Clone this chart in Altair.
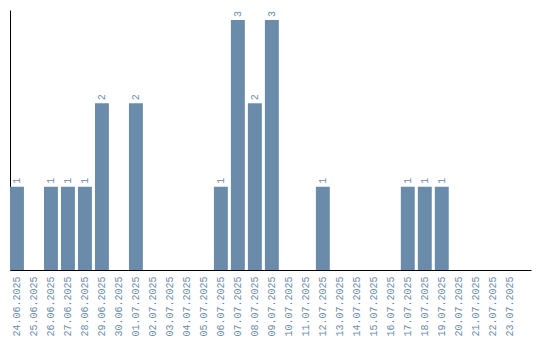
import altair as alt
import pandas as pd

dates = ["24.06.2025", "25.06.2025", "26.06.2025", "27.06.2025", "28.06.2025",
         "29.06.2025", "30.06.2025", "01.07.2025", "02.07.2025", "03.07.2025",
         "04.07.2025", "05.07.2025", "06.07.2025", "07.07.2025", "08.07.2025",
         "09.07.2025", "10.07.2025", "11.07.2025", "12.07.2025", "13.07.2025",
         "14.07.2025", "15.07.2025", "16.07.2025", "17.07.2025", "18.07.2025",
         "19.07.2025", "20.07.2025", "21.07.2025", "22.07.2025", "23.07.2025"]
counts = [1, 0, 1, 1, 1, 2, 0, 2, 0, 0,
          0, 0, 1, 3, 2, 3, 0, 0, 1, 0,
          0, 0, 0, 1, 1, 1, 0, 0, 0, 0]

df = pd.DataFrame({"date": dates, "count": counts})
df["label"] = df["count"].apply(lambda v: str(v) if v > 0 else "")

color = "#6a8caa"
font = "Liberation Mono"

x = alt.X("date:N", sort=dates, title=None,
          scale=alt.Scale(paddingInner=0.18, paddingOuter=0.42, align=0),
          axis=alt.Axis(labelAngle=270, labelColor=color, labelFont=font,
                        labelFontSize=10, ticks=False, domainColor="black",
                        labelPadding=6, grid=False))
y = alt.Y("count:Q", title=None, scale=alt.Scale(domain=[0, 3.12], nice=False),
          axis=alt.Axis(labels=False, ticks=False, grid=False, domainColor="black"))

bars = alt.Chart(df).mark_bar(color=color).encode(x=x, y=y)
text = alt.Chart(df).mark_text(angle=270, align="left", baseline="middle", dx=3,
                               color=color, font=font, fontSize=10).encode(
    x=alt.X("date:N", sort=dates), y="count:Q", text="label:N")

chart = (bars + text).properties(
    width=521, height=260, autosize=alt.AutoSizeParams(type="none"),
    padding={"left": 10, "top": 10, "right": 9, "bottom": 70}
).configure_view(stroke=None)

chart.save("out.html", embed_options={"renderer": "svg", "actions": False})
